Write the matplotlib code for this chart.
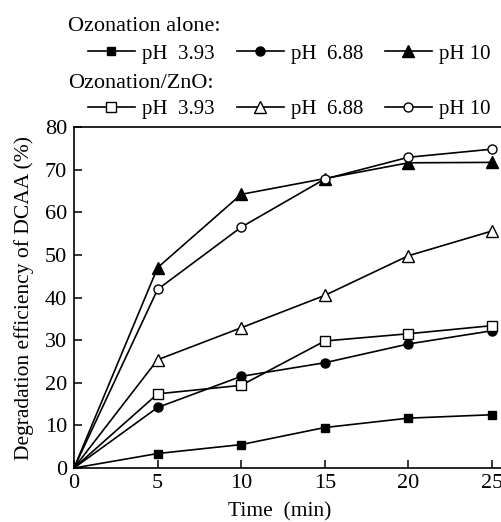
import matplotlib
matplotlib.use("Agg")
import matplotlib.pyplot as plt

plt.rcParams['font.family'] = ['Liberation Serif', 'DejaVu Serif']

time = [0, 5, 10, 15, 20, 25]
alone_ph393 = [0, 3.4, 5.5, 9.5, 11.7, 12.5]
alone_ph688 = [0, 14.2, 21.5, 24.7, 29.1, 32.2]
alone_ph10 = [0, 47.0, 64.2, 67.9, 71.6, 71.7]
zno_ph393 = [0, 17.4, 19.4, 29.8, 31.5, 33.4]
zno_ph688 = [0, 25.4, 32.9, 40.5, 49.8, 55.6]
zno_ph10 = [0, 41.9, 56.5, 67.8, 72.9, 74.8]
labels = ["pH  3.93", "pH  6.88", "pH 10"]

FS = 16
fig = plt.figure(figsize=(5.01, 5.22), dpi=100)
ax = fig.add_axes([0.1477, 0.1034, 0.8523, 0.6533])

lw = 1.2
s_alone = [
    (alone_ph393, dict(marker='s', ms=6, mfc='black', mec='black')),
    (alone_ph688, dict(marker='o', ms=6.5, mfc='black', mec='black')),
    (alone_ph10, dict(marker='^', ms=8, mfc='black', mec='black')),
]
s_zno = [
    (zno_ph393, dict(marker='s', ms=7.5, mfc='white', mec='black', mew=1.0)),
    (zno_ph688, dict(marker='^', ms=9, mfc='white', mec='black', mew=1.0)),
    (zno_ph10, dict(marker='o', ms=6.5, mfc='white', mec='black', mew=1.0)),
]
h_alone, h_zno = [], []
for ys, st in s_alone:
    h, = ax.plot(time, ys, color='black', lw=lw, clip_on=False, zorder=3,
                 markevery=slice(1, None), **st)
    h_alone.append(h)
for ys, st in s_zno:
    h, = ax.plot(time, ys, color='black', lw=lw, clip_on=False, zorder=4,
                 markevery=slice(1, None), **st)
    h_zno.append(h)

ax.set_xlim(0, 25.54)
ax.set_ylim(0, 80)
ax.set_xticks([0, 5, 10, 15, 20, 25])
ax.set_yticks([0, 10, 20, 30, 40, 50, 60, 70, 80])
ax.spines['right'].set_visible(False)
for sp in ['left', 'bottom', 'top']:
    ax.spines[sp].set_linewidth(1.2)
ax.tick_params(direction='in', length=6, width=1.1, labelsize=FS, pad=4,
               top=False, right=False)
ax.tick_params(axis='y', pad=5)
ax.set_xlabel("Time  (min)", fontsize=15.5)
ax.xaxis.set_label_coords(0.482, -0.10)
ax.set_ylabel("Degradation efficiency of DCAA (%)", fontsize=15.5, labelpad=8)

fig.text(0.136, 0.950, "Ozonation alone:", fontsize=FS, va='center', ha='left')
fig.text(0.136, 0.840, "Ozonation/ZnO:", fontsize=FS, va='center', ha='left')

leg_kw = dict(ncol=3, frameon=False, fontsize=15, handlelength=2.25,
              handletextpad=0.35, columnspacing=1.05, borderpad=0,
              borderaxespad=0, loc='center left')
leg1 = fig.legend(h_alone, labels, bbox_to_anchor=(0.1756, 0.897), **leg_kw)
leg2 = fig.legend(h_zno, labels, bbox_to_anchor=(0.1756, 0.791), **leg_kw)

fig.savefig("out.png", dpi=100)
